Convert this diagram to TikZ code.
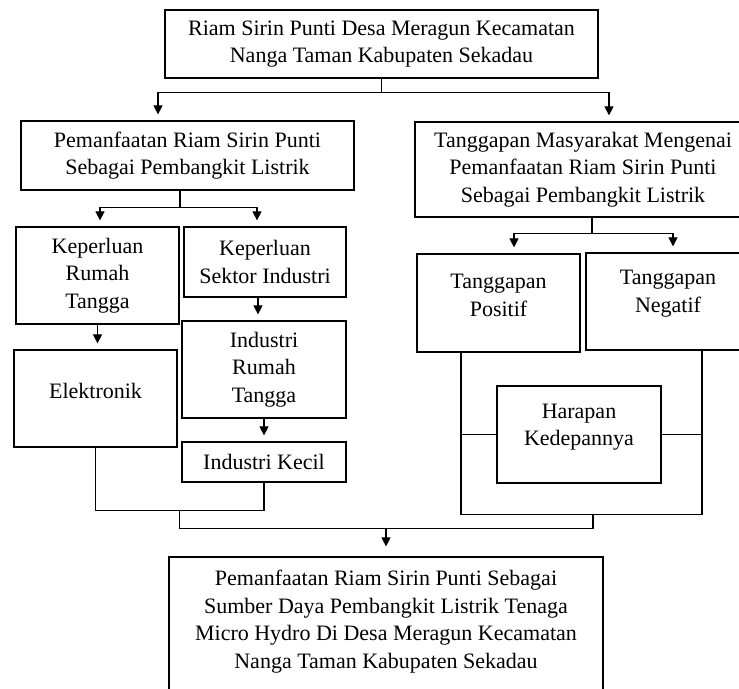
\documentclass[tikz,border=0pt]{standalone}
\usepackage{fontspec}
\setmainfont{Liberation Serif}
\usetikzlibrary{arrows.meta,calc}

\tikzset{
  kotak/.style={draw, line width=0.6pt, align=center, inner sep=0pt,
    font=\fontsize{11pt}{13.8pt}\selectfont},
  garis/.style={line width=0.6pt},
  panah/.style={garis, -{Triangle[width=4.5pt,length=4.5pt]}, shorten >=3pt},
}

\begin{document}
\begin{tikzpicture}[x=0.5pt,y=-0.5pt]
\useasboundingbox (0,0) rectangle (739,689);
\clip (0,0) rectangle (739,689);

\node[kotak, minimum width=216.5pt, minimum height=34pt] (judul) at (381.5,44)
  {Riam Sirin Punti Desa Meragun Kecamatan\\Nanga Taman Kabupaten Sekadau};
\node[kotak, minimum width=166.5pt, minimum height=34.5pt] (manfaat) at (187.5,155.5)
  {Pemanfaatan Riam Sirin Punti\\Sebagai Pembangkit Listrik};
\node[kotak, minimum width=168pt, minimum height=47.5pt] (tanggapan) at (583,169.5)
  {Tanggapan Masyarakat Mengenai\\Pemanfaatan Riam Sirin Punti\\Sebagai Pembangkit Listrik};
\node[kotak, minimum width=81.5pt, minimum height=48.5pt] (rumah) at (97.5,275.5)
  {Keperluan\\Rumah\\Tangga};
\node[kotak, minimum width=81pt, minimum height=35pt] (sektor) at (265,262)
  {Keperluan\\Sektor Industri};
\node[kotak, minimum width=81.5pt, minimum height=48.5pt] (elektronik) at (95.5,398.5)
  {Elektronik\\[-5.8pt]\mbox{}};
\node[kotak, minimum width=82pt, minimum height=48.5pt] (irt) at (264,369.5)
  {Industri\\Rumah\\Tangga};
\node[kotak, minimum width=82pt, minimum height=20pt] (kecil) at (264,462)
  {Industri Kecil};
\node[kotak, minimum width=81.5pt, minimum height=49pt] (positif) at (498.5,303)
  {Tanggapan\\Positif\\[-5.8pt]\mbox{}};
\node[kotak, minimum width=82pt, minimum height=48.5pt] (negatif) at (668,301.5)
  {Tanggapan\\Negatif\\[-3.4pt]\mbox{}};
\node[kotak, minimum width=82pt, minimum height=48.5pt] (harapan) at (579,434.5)
  {Harapan\\Kedepannya\\[-3.9pt]\mbox{}};
\node[kotak, minimum width=217pt, minimum height=81.5pt] (hasil) at (386,638.5)
  {Pemanfaatan Riam Sirin Punti Sebagai\\Sumber Daya Pembangkit Listrik Tenaga\\Micro Hydro Di Desa Meragun Kecamatan\\Nanga Taman Kabupaten Sekadau\\[5.6pt]\mbox{}};

\draw[garis] (judul.south) -- ++(0,14) coordinate (j1);
\draw[panah] (j1) -| ($(manfaat.north)+(-29.5,0)$);
\draw[panah] (j1) -| ($(tanggapan.north)+(26,0)$);

\draw[garis] ($(manfaat.south)+(-7.5,0)$) -- ++(0,17) coordinate (j2);
\draw[panah] (j2) -| ($(rumah.north)+(2.5,0)$);
\draw[panah] (j2) -| ($(sektor.north)+(-8,0)$);
\draw[panah] (rumah.south) -- (rumah.south |- elektronik.north);
\draw[panah] ($(sektor.south)+(-7,0)$) -- ($(sektor.south |- irt.north)+(-7,0)$);
\draw[panah] (irt.south) -- (kecil.north);

\draw[garis] (elektronik.south) -- ++(0,63) coordinate (j3) -| (kecil.south);
\coordinate (j4) at ($(j3)!0.5!(j3 -| kecil.south)$);

\draw[garis] ($(tanggapan.south)+(9,0)$) -- ++(0,16) coordinate (j8);
\draw[panah] (j8) -| ($(positif.north)+(15.5,0)$);
\draw[panah] (j8) -| ($(negatif.north)+(5,0)$);

\draw[garis] ($(positif.south)+(-37.5,0)$) coordinate (p1) -- ++(0,162) coordinate (j5)
  -| ($(negatif.south)+(34,0)$) coordinate (n1);
\draw[garis] (harapan.west) -- (harapan.west -| p1);
\draw[garis] (harapan.east) -- (harapan.east -| n1);
\draw[garis] ($(j5)+(132,0)$) -- ++(0,14) coordinate (j6);
\draw[garis] (j4) -- (j4 |- j6) coordinate (j7) -- (j6);
\draw[panah, shorten >=5pt] (j7 -| hasil.north) -- (hasil.north);
\end{tikzpicture}
\end{document}
